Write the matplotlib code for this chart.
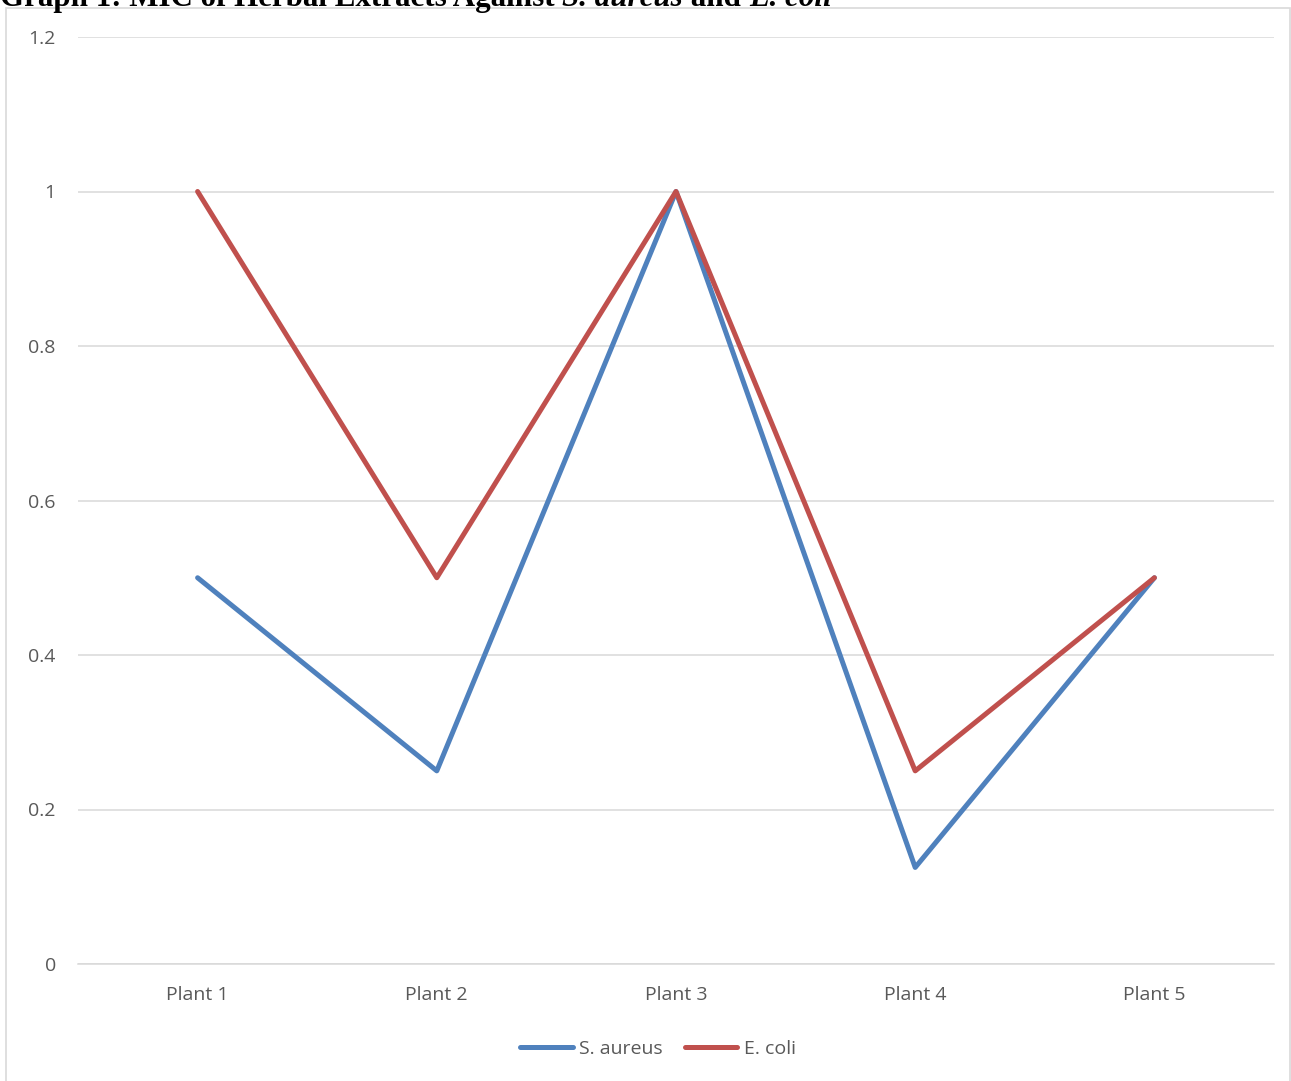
import matplotlib.pyplot as plt
from matplotlib.patches import Rectangle

plants = ["Plant 1", "Plant 2", "Plant 3", "Plant 4", "Plant 5"]
s_aureus = [0.5, 0.25, 1.0, 0.125, 0.5]
e_coli = [1.0, 0.5, 1.0, 0.25, 0.5]
y_ticks = [0, 0.2, 0.4, 0.6, 0.8, 1, 1.2]
y_labels = ["0", "0.2", "0.4", "0.6", "0.8", "1", "1.2"]

W, H = 1291, 1081
BLUE = "#4F81BD"
RED = "#C0504D"
GRID = "#D9D9D9"
TXT = "#595959"

plt.rcParams['font.family'] = ['Open Sans', 'DejaVu Sans']

fig = plt.figure(figsize=(W / 100, H / 100), dpi=100)

# chart frame
fig.patches.append(Rectangle((6 / W, -0.05), 1284 / W, 1.05 - 8 / H,
                             transform=fig.transFigure, fill=False,
                             edgecolor=GRID, linewidth=1.2))

ax = fig.add_axes([78 / W, 1 - 964 / H, (1274 - 78) / W, (964 - 37) / H])
x = list(range(len(plants)))
ax.plot(x, s_aureus, color=BLUE, linewidth=3.6, label="S. aureus",
        solid_joinstyle="round", solid_capstyle="round")
ax.plot(x, e_coli, color=RED, linewidth=3.6, label="E. coli",
        solid_joinstyle="round", solid_capstyle="round")

ax.set_xlim(-0.5, len(plants) - 0.5)
ax.set_ylim(0, 1.2)
ax.set_yticks(y_ticks)
ax.set_yticklabels(y_labels)
ax.set_xticks(x)
ax.set_xticklabels(plants)
ax.yaxis.grid(True, color=GRID, linewidth=1.1)
ax.set_axisbelow(True)
for s in ["top", "right", "left"]:
    ax.spines[s].set_visible(False)
ax.spines["bottom"].set_color(GRID)
ax.spines["bottom"].set_linewidth(1.1)
ax.tick_params(axis="y", length=0, pad=16, labelsize=14, labelcolor=TXT)
ax.tick_params(axis="x", length=0, pad=16, labelsize=14, labelcolor=TXT)

fig.legend(loc="center", bbox_to_anchor=(658 / W, 1 - 1049 / H), ncol=2,
           frameon=False, fontsize=14, labelcolor=TXT, handlelength=2.7,
           handletextpad=0.35, columnspacing=1.1)

# title, partly cut off by the top edge
pieces = [("Graph 1: MIC of Herbal Extracts Against ", "normal"),
          ("S. aureus", "italic"), (" and ", "normal"),
          ("E. coli", "italic")]
fig.canvas.draw()
r = fig.canvas.get_renderer()
xpos = 0.0
for txt, st in pieces:
    t = fig.text(xpos, 1 - 6 / H, txt, family="Liberation Serif",
                 weight="bold", style=st, fontsize=22.3, va="baseline",
                 ha="left", color="black")
    bb = t.get_window_extent(renderer=r)
    xpos += bb.width / W

fig.savefig("out.png", dpi=100)
